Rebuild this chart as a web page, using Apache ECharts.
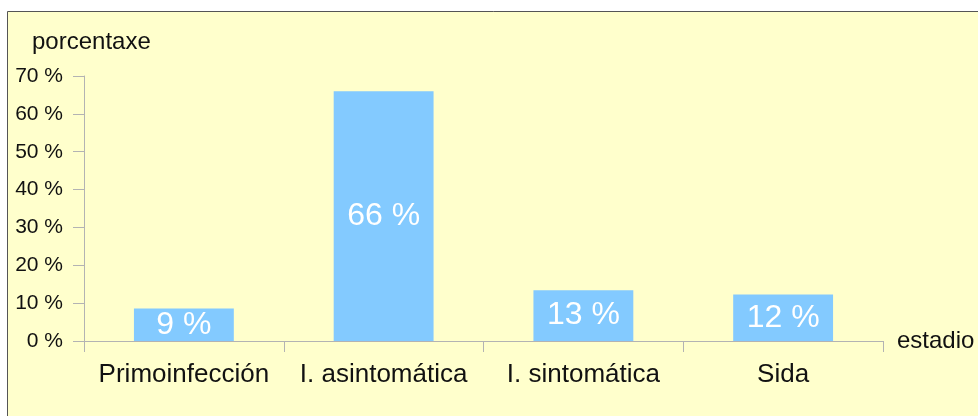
<!DOCTYPE html>
<html>
<head>
<meta charset="utf-8">
<script src="https://cdn.jsdelivr.net/npm/echarts@6/dist/echarts.min.js"></script>
<style>
  html, body { margin: 0; padding: 0; background: #fff; }
  #chart { width: 978px; height: 416px; }
</style>
</head>
<body>
<div id="chart"></div>
<script>
var categories = ['Primoinfección', 'I. asintomática', 'I. sintomática', 'Sida'];
var values = [8.6, 66.0, 13.4, 12.3];
var valueLabels = ['9 %', '66 %', '13 %', '12 %'];
var yTicks = [0, 10, 20, 30, 40, 50, 60, 70];

var font = '"Liberation Sans", Arial, sans-serif';

var option = {
  backgroundColor: '#fff',
  animation: false,
  graphic: [{
    type: 'rect',
    shape: { x: 7.5, y: 11.5, width: 1000, height: 500 },
    style: { fill: '#ffffcc', stroke: '#555', lineWidth: 1 },
    z: -10
  }],
  grid: { left: 84, right: 95, top: 76, bottom: 75 },
  xAxis: {
    type: 'category',
    data: categories,
    name: 'estadio',
    nameLocation: 'end',
    nameGap: 14,
    nameTextStyle: { fontFamily: font, fontSize: 24, color: '#111', verticalAlign: 'middle', padding: [6, 0, 0, 0] },
    axisLine: { lineStyle: { color: '#b3b3b3', width: 1 } },
    axisTick: { show: true, interval: 0, alignWithLabel: false, length: 11, lineStyle: { color: '#b3b3b3' } },
    axisLabel: { interval: 0, fontFamily: font, fontSize: 26, color: '#111', margin: 21 }
  },
  yAxis: {
    type: 'value',
    min: 0,
    max: 70,
    interval: 10,
    name: 'porcentaxe',
    nameLocation: 'end',
    nameGap: 22,
    nameTextStyle: { fontFamily: font, fontSize: 24, color: '#111', align: 'left', padding: [0, 0, 0, -52] },
    axisLine: { show: true, lineStyle: { color: '#b3b3b3', width: 1 } },
    axisTick: { show: true, length: 11, lineStyle: { color: '#b3b3b3' } },
    splitLine: { show: false },
    axisLabel: {
      fontFamily: font, fontSize: 21, color: '#111', margin: 21,
      formatter: function (v) { return yTicks.indexOf(v) >= 0 ? v + ' %' : ''; }
    }
  },
  series: [{
    type: 'bar',
    data: values,
    barWidth: '50%',
    itemStyle: { color: '#83caff' },
    label: {
      show: true,
      position: 'inside',
      fontFamily: font,
      fontSize: 32,
      color: '#fff',
      formatter: function (p) { return valueLabels[p.dataIndex]; }
    }
  }]
};

var myChart = echarts.init(document.getElementById('chart'));
myChart.setOption(option);
</script>
</body>
</html>
